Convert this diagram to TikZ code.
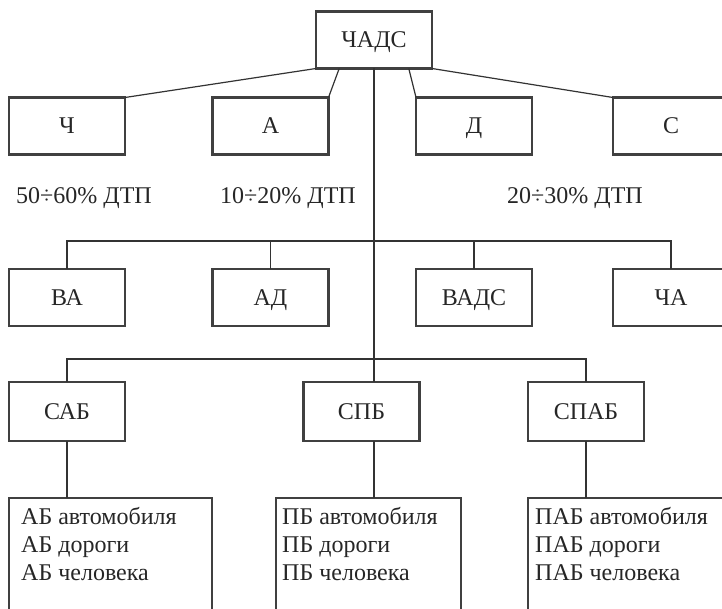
\documentclass[tikz,border=0pt]{standalone}
\usepackage{fontspec}
\setmainfont{Liberation Serif}
\usetikzlibrary{calc}
\begin{document}
\begin{tikzpicture}[x=1pt,y=-1pt,
  every node/.style={font=\fontsize{24}{28}\selectfont, text=black!85},
  box/.style={draw=black!75, line width=2.4pt, rectangle, inner sep=0pt, outer sep=0pt,
    minimum width=116pt, minimum height=57pt, text height=15.5pt, text depth=0pt},
  listbox/.style={draw=black!75, line width=2.4pt, rectangle, inner sep=0pt, outer sep=0pt,
    minimum height=140pt},
  listtext/.style={align=left, anchor=north west, inner sep=0pt},
  link/.style={draw=black!80, line width=1.2pt},
  share/.style={inner sep=0pt, text height=15.5pt, text depth=0pt}]
\useasboundingbox (0,0) rectangle (722,609);
\clip (0,0) rectangle (722,609);

% root and first level
\node[box] (chads) at (374,40) {ЧАДС};
\node[box] (ch) at (67,126) {Ч};
\node[box] (a)  at (270.5,126) {А};
\node[box] (d)  at (474,126) {Д};
\node[box] (s)  at (671,126) {С};

\draw[link] (chads.south west) -- (ch.north east);
\draw[link] ($(chads.south west)!0.2!(chads.south east)$) -- (a.north east);
\draw[link] ($(chads.south west)!0.8!(chads.south east)$) -- (d.north west);
\draw[link] (chads.south east) -- (s.north west);

% shares of road accidents
\node[share] (p1) at (84,196) {50÷60\% ДТП};
\node[share] (p2) at (288,196) {10÷20\% ДТП};
\node[share] (p3) at (575,196) {20÷30\% ДТП};

% second level
\node[box] (va)   at (67,297.5) {ВА};
\node[box] (ad)   at (270.5,297.5) {АД};
\node[box] (vads) at (474,297.5) {ВАДС};
\node[box] (cha)  at (671,297.5) {ЧА};

% third level
\node[box, minimum height=59pt] (sab)  at (67,411.5) {САБ};
\node[box, minimum height=59pt] (spb)  at (361.5,411.5) {СПБ};
\node[box, minimum height=59pt] (spab) at (586,411.5) {СПАБ};

% detail boxes
\node[listbox, minimum width=203pt, anchor=north west] (lab)  at (9,498) {};
\node[listbox, minimum width=185pt, anchor=north west] (lpb)  at (276,498) {};
\node[listbox, minimum width=205pt, anchor=north west] (lpab) at (528,498) {};
\node[listtext] (tab)  at ($(lab.north west)+(12,9)$)  {АБ автомобиля\\АБ дороги\\АБ человека};
\node[listtext] (tpb)  at ($(lpb.north west)+(6,9)$)   {ПБ автомобиля\\ПБ дороги\\ПБ человека};
\node[listtext] (tpab) at ($(lpab.north west)+(7,9)$)  {ПАБ автомобиля\\ПАБ дороги\\ПАБ человека};

% trunk and buses
\coordinate (bus1) at (374,241);
\coordinate (bus2) at (374,359);
\draw[link] (chads.south) -- (chads.south |- spb.north);
\draw[link] (va.north) |- (bus1) -| (cha.north);
\draw[link] (ad.north) -- (ad.north |- bus1);
\draw[link] (vads.north) -- (vads.north |- bus1);
\draw[link] (sab.north) |- (bus2) -| (spab.north);

\draw[link] (sab.south) -- (sab.south |- lab.north);
\draw[link] (chads.south |- spb.south) -- (chads.south |- lpb.north);
\draw[link] (spab.south) -- (spab.south |- lpab.north);
\end{tikzpicture}
\end{document}
